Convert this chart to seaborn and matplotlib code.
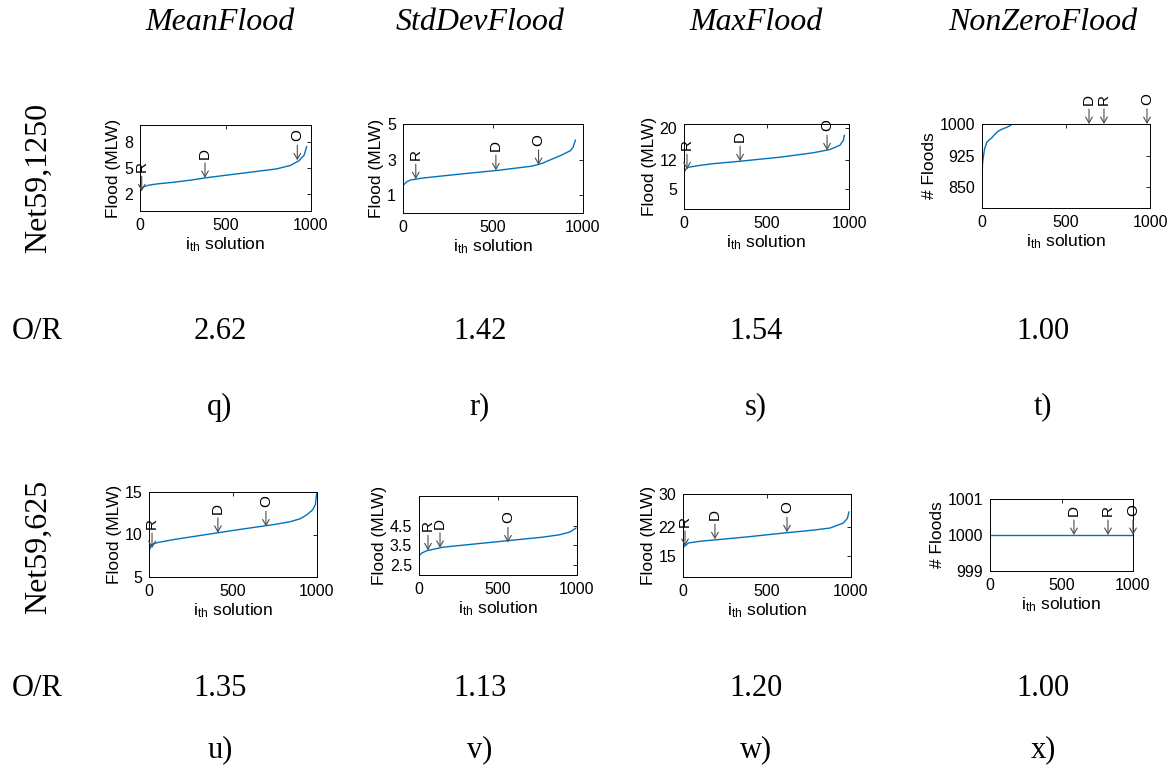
import matplotlib
matplotlib.use("Agg")
import matplotlib.pyplot as plt
import seaborn as sns
import pandas as pd

sns.set_theme(style="white")
plt.rcParams["font.family"] = ["Liberation Sans", "DejaVu Sans"]
plt.rcParams["mathtext.default"] = "regular"
plt.rcParams["axes.edgecolor"] = "black"
plt.rcParams["axes.linewidth"] = 0.7

LINE_COLOR = "#0072BD"
SERIF = ["Liberation Serif", "DejaVu Serif"]

# ---- sorted flood statistics of each solution (sampled along the curve) ----
# Net59,1250
mean1250_idx = [0, 5, 20, 50, 100, 200, 300, 400, 500, 600, 700, 800, 880, 930, 960, 975]
mean1250_val = [2.2, 2.5, 2.8, 3.0, 3.15, 3.35, 3.6, 3.9, 4.15, 4.4, 4.65, 4.9, 5.3, 5.85, 6.5, 7.5]
std1250_idx = [0, 5, 20, 40, 100, 170, 350, 530, 715, 770, 810, 880, 930, 945, 958]
std1250_val = [1.5, 1.6, 1.75, 1.85, 1.95, 2.03, 2.22, 2.4, 2.63, 2.78, 2.95, 3.25, 3.5, 3.7, 4.1]
max1250_idx = [0, 10, 26, 100, 178, 339, 582, 784, 885, 945, 966, 972]
max1250_val = [9.0, 9.8, 10.3, 10.8, 11.2, 11.8, 12.8, 13.9, 14.7, 15.75, 17.0, 18.25]
nz1250_idx = [0, 3, 8, 15, 28, 45, 58, 75, 97, 120, 147, 167, 180, 985]
nz1250_val = [880, 905, 921, 940, 956, 963, 967, 975, 983, 988, 992, 996, 1000, 1000]

# Net59,625
mean625_idx = [0, 8, 16, 46, 145, 343, 542, 740, 839, 900, 938, 974, 990, 998]
mean625_val = [8.0, 8.5, 8.8, 9.03, 9.4, 10.0, 10.6, 11.16, 11.5, 11.85, 12.3, 12.9, 13.5, 14.8]
std625_idx = [0, 20, 49, 154, 365, 576, 787, 892, 956, 994]
std625_val = [2.98, 3.12, 3.23, 3.41, 3.58, 3.75, 3.92, 4.04, 4.18, 4.38]
max625_idx = [0, 6, 32, 100, 180, 379, 577, 776, 875, 954, 978, 988]
max625_val = [17.0, 17.3, 18.2, 18.6, 18.9, 19.65, 20.5, 21.3, 21.8, 23.0, 24.1, 25.7]
nz625_idx = [0, 1000]
nz625_val = [1000, 1000]

# ---- highlighted solutions: R, D, O (solution index, value) ----
marks_q = {"R": (10, 2.3), "D": (380, 3.85), "O": (920, 5.9)}
marks_r = {"R": (71, 1.9), "D": (516, 2.4), "O": (753, 2.7)}
marks_s = {"R": (18, 9.8), "D": (340, 11.8), "O": (867, 14.5)}
marks_t = {"D": (637, 1000), "R": (726, 1000), "O": (982, 1000)}
marks_u = {"R": (18, 8.4), "D": (410, 10.2), "O": (696, 10.95)}
marks_v = {"R": (57, 3.25), "D": (133, 3.38), "O": (563, 3.65)}
marks_w = {"R": (12, 17.5), "D": (190, 19.1), "O": (619, 20.8)}
marks_x = {"D": (587, 1000), "R": (825, 1000), "O": (1000, 1000)}

# ---- table text ----
column_titles = ["MeanFlood", "StdDevFlood", "MaxFlood", "NonZeroFlood"]
row_titles = ["Net59,1250", "Net59,625"]
ratio_row1 = ["2.62", "1.42", "1.54", "1.00"]
ratio_row2 = ["1.35", "1.13", "1.20", "1.00"]
panel_row1 = ["q)", "r)", "s)", "t)"]
panel_row2 = ["u)", "v)", "w)", "x)"]

W, H = 1174, 778
fig = plt.figure(figsize=(W / 100, H / 100), dpi=100)
fig.patch.set_facecolor("white")


def axes_px(left, top, right, bottom):
    return fig.add_axes([left / W, 1 - bottom / H, (right - left) / W, (bottom - top) / H])


def panel(box, idx, val, marks, ylim, yticks, ylabel):
    ax = axes_px(*box)
    df = pd.DataFrame({"solution": idx, "flood": val})
    sns.lineplot(data=df, x="solution", y="flood", ax=ax, color=LINE_COLOR,
                 linewidth=1.0, estimator=None, sort=True)
    ax.set_xlim(0, 1000)
    ax.set_ylim(*ylim)
    ax.set_xticks([0, 500, 1000])
    ax.set_yticks(yticks)
    ax.set_yticklabels([f"{t:g}" for t in yticks])
    ax.tick_params(direction="in", top=True, right=True, length=3, width=0.6,
                   labelsize=11.5, pad=5, colors="black")
    for side in ax.spines.values():
        side.set_visible(True)
        side.set_color("black")
    ax.set_xlabel("i$_{th}$ solution", fontsize=12.5, labelpad=2, color="black")
    ax.set_ylabel(ylabel, fontsize=12.5, labelpad=2, color="black")
    ax.grid(False)
    for letter, (mx, my) in marks.items():
        # downward arrow onto the solution, letter standing above it
        ax.annotate("", xy=(mx, my), xytext=(0, 15), textcoords="offset pixels",
                    annotation_clip=False,
                    arrowprops=dict(arrowstyle="->,head_length=0.35,head_width=0.2",
                                    color="0.3", lw=0.8, shrinkA=0, shrinkB=0))
        ax.annotate(letter, xy=(mx, my), xytext=(0, 19), textcoords="offset pixels",
                    rotation=90, ha="center", va="bottom", fontsize=11,
                    color="black", annotation_clip=False)
    return ax


flood = "Flood (MLW)"
nfl = "# Floods"
panel((140, 125, 311, 211), mean1250_idx, mean1250_val, marks_q, (0, 10), [2, 5, 8], flood)
panel((403, 124, 583, 213), std1250_idx, std1250_val, marks_r, (0, 5), [1, 3, 5], flood)
panel((684, 124, 849, 209), max1250_idx, max1250_val, marks_s, (0, 21), [5, 12, 20], flood)
panel((982, 124, 1150, 208), nz1250_idx, nz1250_val, marks_t, (800, 1000), [850, 925, 1000], nfl)
panel((149, 492, 317, 577), mean625_idx, mean625_val, marks_u, (5, 15), [5, 10, 15], flood)
panel((419, 496, 577, 575), std625_idx, std625_val, marks_v, (2, 6), [2.5, 3.5, 4.5], flood)
panel((683, 494, 851, 577), max625_idx, max625_val, marks_w, (10, 30), [15, 22, 30], flood)
panel((990, 499, 1133, 571), nz625_idx, nz625_val, marks_x, (999, 1001), [999, 1000, 1001], nfl)

# ---- surrounding table text ----
col_x = [220, 480, 756, 1043]


def ftext(x, y, s, **kw):
    fig.text(x / W, 1 - y / H, s, family=SERIF, color="black", **kw)


for cx, title in zip(col_x, column_titles):
    ftext(cx, 22, title, fontsize=23, fontstyle="italic", ha="center", va="center")

ftext(38, 178, row_titles[0], fontsize=23, rotation=90, ha="center", va="center")
ftext(38, 547, row_titles[1], fontsize=23, rotation=90, ha="center", va="center")

ftext(12, 331, "O/R", fontsize=22, ha="left", va="center")
ftext(12, 688, "O/R", fontsize=22, ha="left", va="center")
for cx, r1, r2, p1, p2 in zip(col_x, ratio_row1, ratio_row2, panel_row1, panel_row2):
    ftext(cx, 331, r1, fontsize=22, ha="center", va="center")
    ftext(cx, 688, r2, fontsize=22, ha="center", va="center")
    ftext(cx, 407, p1, fontsize=22, ha="center", va="center")
    ftext(cx, 750, p2, fontsize=22, ha="center", va="center")

fig.savefig("out.png", dpi=100, facecolor="white")
